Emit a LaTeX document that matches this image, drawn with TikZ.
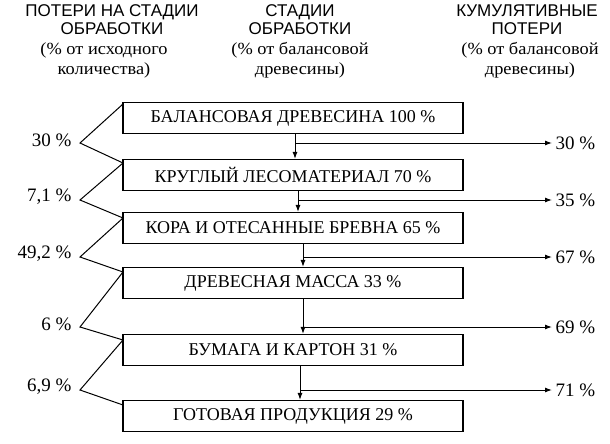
\documentclass[tikz,border=0pt]{standalone}
\usepackage{fontspec}
\setmainfont{Liberation Serif}
\newfontfamily\hdr{Liberation Sans}
\newfontfamily\wide[FakeStretch=1.08]{Liberation Serif}
\usetikzlibrary{arrows.meta}
\begin{document}
\begin{tikzpicture}[x=1pt,y=-1pt,
  stage/.style={draw,line width=1.2pt,minimum width=340pt,minimum height=31pt,font=\fontsize{18}{19}\selectfont,inner sep=0pt},
  hd/.style={font=\hdr\fontsize{17}{18}\selectfont,align=center,anchor=north},
  sub/.style={font=\wide\fontsize{17}{20}\selectfont,align=center,anchor=north},
  lab/.style={font=\fontsize{19}{20}\selectfont},
  ln/.style={line width=1pt},
  arr/.style={line width=1pt,-{Latex[length=7pt,width=5pt]}}]
\useasboundingbox (0,0) rectangle (610,444);
\node[hd] (h1) at (112,1) {ПОТЕРИ НА СТАДИИ\\ОБРАБОТКИ};
\node[sub] (s1) at (104,39) {(\% от исходного\\количества)};
\node[hd] (h2) at (300,1) {СТАДИИ\\ОБРАБОТКИ};
\node[sub] (s2) at (300,39) {(\% от балансовой\\древесины)};
\node[hd] (h3) at (527,1) {КУМУЛЯТИВНЫЕ\\ПОТЕРИ};
\node[sub] (s3) at (530,39) {(\% от балансовой\\древесины)};

\node[stage] (b1) at (293,118) {БАЛАНСОВАЯ ДРЕВЕСИНА 100 \%};
\node[stage] (b2) at (293,175) {КРУГЛЫЙ ЛЕСОМАТЕРИАЛ 70 \%};
\node[stage] (b3) at (293,228) {КОРА И ОТЕСАННЫЕ БРЕВНА 65 \%};
\node[stage] (b4) at (293,283) {ДРЕВЕСНАЯ МАССА 33 \%};
\node[stage] (b5) at (293,350) {БУМАГА И КАРТОН 31 \%};
\node[stage] (b6) at (293,416) {ГОТОВАЯ ПРОДУКЦИЯ 29 \%};

\foreach \a/\b/\x/\y/\v [count=\i] in {b1/b2/295/143/30,b2/b3/298/200/35,b3/b4/303/257/67,b4/b5/303/327/69,b5/b6/300/390/71}{
  \coordinate (t\i) at (\x,\y);
  \draw[arr] (\a.south -| t\i) -- (\b.north -| t\i);
  \node[lab,anchor=west] (r\i) at (552,\y) {\v~\%};
  \draw[arr] (t\i) -- (r\i.west);
}
\coordinate (p0) at (123,104);
\coordinate (p1) at (123,163);
\coordinate (p2) at (123,218);
\coordinate (p3) at (123,272);
\coordinate (p4) at (123,340);
\coordinate (p5) at (123,405);
\foreach \y/\v [count=\i] in {143/30,200/{7,1},257/{49,2},327/6,390/{6,9}}{
  \coordinate (a\i) at (80,\y);
  \node[lab,anchor=east] (l\i) at (75,\y-3) {\v~\%};
}
\draw[ln] (p0)--(a1)--(p1)--(a2)--(p2)--(a3)--(p3)--(a4)--(p4)--(a5)--(p5);
\end{tikzpicture}
\end{document}
